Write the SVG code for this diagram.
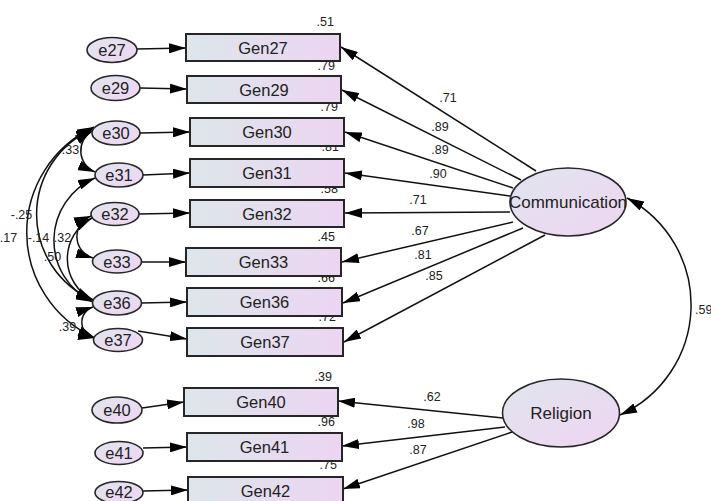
<svg xmlns="http://www.w3.org/2000/svg" width="711" height="501" viewBox="0 0 711 501">
  <style>
    .obs { stroke: #262626; stroke-width: 2; fill: url(#boxFill); }
    .lat { stroke: #262626; stroke-width: 1.6; fill: url(#ovalFill); }
    .err { stroke: #262626; stroke-width: 1.6; fill: url(#ovalFill); }
    .name { font-family: "Liberation Sans", Arial, sans-serif; font-size: 16.5px; fill: #222; text-anchor: middle; }
    .lname { font-family: "Liberation Sans", Arial, sans-serif; font-size: 17px; fill: #222; text-anchor: middle; }
    .val { font-family: "Liberation Sans", Arial, sans-serif; font-size: 12.5px; fill: #222; }
    .mid { text-anchor: middle; }
    .end { text-anchor: end; }
    .edge { fill: none; stroke: #111; stroke-width: 1.5; marker-end: url(#head); }
    .cov { fill: none; stroke: #111; stroke-width: 1.5; marker-start: url(#head); marker-end: url(#head); }
  </style>
  <defs>
    <linearGradient id="boxFill" x1="0" y1="0" x2="1" y2="0">
      <stop offset="0" stop-color="#dde6ea"/>
      <stop offset="1" stop-color="#ecd5f2"/>
    </linearGradient>
    <linearGradient id="ovalFill" x1="0" y1="0" x2="1" y2="1">
      <stop offset="0" stop-color="#e0e5ee"/>
      <stop offset="1" stop-color="#efd5f2"/>
    </linearGradient>
    <marker id="head" viewBox="0 0 17 10" refX="17" refY="5" markerWidth="17" markerHeight="10" markerUnits="userSpaceOnUse" orient="auto-start-reverse">
      <path d="M0,0 L17,5 L0,10 z" fill="#000"/>
    </marker>
  </defs>

  <!-- paths, error terms and covariances -->
  <g id="connectors">
    <!-- Communication loadings -->
    <path class="edge" d="M536,171 L341,47"/>
    <path class="edge" d="M521,180 L342,90"/>
    <path class="edge" d="M513,188 L345,132"/>
    <path class="edge" d="M510,196 L345,173"/>
    <path class="edge" d="M510,212 L345,213"/>
    <path class="edge" d="M513,222 L342,262"/>
    <path class="edge" d="M523,228 L343,303"/>
    <path class="edge" d="M545,235 L344,342"/>
    <!-- Religion loadings -->
    <path class="edge" d="M503,418 L338,401"/>
    <path class="edge" d="M505,427 L342,446"/>
    <path class="edge" d="M512,432 L343,489"/>
    <!-- error terms -->
    <path class="edge" d="M137,49 L186,48"/>
    <path class="edge" d="M140,88 L187,89"/>
    <path class="edge" d="M140,133 L190,132"/>
    <path class="edge" d="M143,175 L190,173"/>
    <path class="edge" d="M139,214 L190,213"/>
    <path class="edge" d="M141,262 L186,262"/>
    <path class="edge" d="M141,303 L187,302"/>
    <path class="edge" d="M138,331 L187,339"/>
    <path class="edge" d="M142,408 L184,402"/>
    <path class="edge" d="M143,448 L187,447"/>
    <path class="edge" d="M143,491 L188,490"/>
    <!-- covariances among error terms -->
    <path class="cov" d="M92,131 A23,23 0 0 0 95,172"/>
    <path class="cov" d="M93,129 A93,93 0 0 0 93,300"/>
    <path class="cov" d="M94,127 A116,116 0 0 0 95,338"/>
    <path class="cov" d="M95,178 A68,68 0 0 0 93,302"/>
    <path class="cov" d="M91,216 A22.2,22.2 0 0 0 93,258"/>
    <path class="cov" d="M92,218 A46,46 0 0 0 93,300"/>
    <path class="cov" d="M93,307 A16,16 0 0 0 95,338"/>
    <!-- factor covariance -->
    <path class="cov" d="M627,198 A121,121 0 0 1 620,415"/>
  </g>

  <!-- coefficient labels -->
  <g id="labels" class="val">
    <text class="mid" x="448" y="102">.71</text>
    <text class="mid" x="440" y="131">.89</text>
    <text class="mid" x="440" y="154">.89</text>
    <text class="mid" x="438" y="178">.90</text>
    <text class="mid" x="418" y="204">.71</text>
    <text class="mid" x="420" y="235">.67</text>
    <text class="mid" x="423" y="259">.81</text>
    <text class="mid" x="434" y="280">.85</text>
    <text class="mid" x="432" y="401">.62</text>
    <text class="mid" x="416" y="428">.98</text>
    <text class="mid" x="418" y="454">.87</text>
    <text x="695" y="314">.59</text>
    <text class="mid" x="70.5" y="154">.33</text>
    <text class="mid" x="21.5" y="219">-.25</text>
    <text class="mid" x="8.5" y="241.5">.17</text>
    <text class="mid" x="38.5" y="241.5">-.14</text>
    <text class="mid" x="62.5" y="241.5">.32</text>
    <text class="mid" x="52.5" y="260.5">.50</text>
    <text class="mid" x="67.5" y="331">.39</text>
    <!-- squared multiple correlations -->
    <text class="end" x="334" y="26">.51</text>
    <text class="end" x="335" y="70">.79</text>
    <text class="end" x="338" y="110.5">.79</text>
    <text class="end" x="339" y="151">.81</text>
    <text class="end" x="338" y="193">.58</text>
    <text class="end" x="335" y="241">.45</text>
    <text class="end" x="335" y="282">.66</text>
    <text class="end" x="336" y="321">.72</text>
    <text class="end" x="332" y="381">.39</text>
    <text class="end" x="335" y="426">.96</text>
    <text class="end" x="337" y="469">.75</text>
  </g>

  <!-- observed variables -->
  <g id="Gen27"><rect class="obs" x="186" y="34" width="154" height="27"/><text class="name" x="263" y="53.5">Gen27</text></g>
  <g id="Gen29"><rect class="obs" x="187" y="76" width="154" height="27"/><text class="name" x="264" y="95.5">Gen29</text></g>
  <g id="Gen30"><rect class="obs" x="190" y="118" width="154" height="28"/><text class="name" x="267" y="138">Gen30</text></g>
  <g id="Gen31"><rect class="obs" x="190" y="159" width="154" height="28"/><text class="name" x="267" y="179">Gen31</text></g>
  <g id="Gen32"><rect class="obs" x="190" y="200" width="154" height="27"/><text class="name" x="267" y="219.5">Gen32</text></g>
  <g id="Gen33"><rect class="obs" x="186" y="248" width="155" height="28"/><text class="name" x="263.5" y="268">Gen33</text></g>
  <g id="Gen36"><rect class="obs" x="187" y="288" width="155" height="28"/><text class="name" x="264.5" y="308">Gen36</text></g>
  <g id="Gen37"><rect class="obs" x="187" y="328" width="156" height="28"/><text class="name" x="265" y="348">Gen37</text></g>
  <g id="Gen40"><rect class="obs" x="184" y="388" width="154" height="28"/><text class="name" x="261" y="408">Gen40</text></g>
  <g id="Gen41"><rect class="obs" x="187" y="433" width="155" height="28"/><text class="name" x="264.5" y="453">Gen41</text></g>
  <g id="Gen42"><rect class="obs" x="188" y="477" width="155" height="28"/><text class="name" x="265.5" y="496.5">Gen42</text></g>

  <!-- error terms -->
  <g id="e27"><ellipse class="err" cx="112" cy="50" rx="25" ry="12.5"/><text class="name" x="112" y="56">e27</text></g>
  <g id="e29"><ellipse class="err" cx="115.5" cy="88" rx="24.5" ry="12.5"/><text class="name" x="115.5" y="94">e29</text></g>
  <g id="e30"><ellipse class="err" cx="116" cy="133" rx="24" ry="12"/><text class="name" x="116" y="139">e30</text></g>
  <g id="e31"><ellipse class="err" cx="119" cy="175" rx="24" ry="12"/><text class="name" x="119" y="181">e31</text></g>
  <g id="e32"><ellipse class="err" cx="115" cy="214" rx="24" ry="11.5"/><text class="name" x="115" y="220">e32</text></g>
  <g id="e33"><ellipse class="err" cx="117" cy="261.5" rx="24.5" ry="11.5"/><text class="name" x="117" y="267.5">e33</text></g>
  <g id="e36"><ellipse class="err" cx="117" cy="303" rx="24.5" ry="12"/><text class="name" x="117" y="309">e36</text></g>
  <g id="e37"><ellipse class="err" cx="118" cy="340" rx="24.5" ry="11.5"/><text class="name" x="118" y="346">e37</text></g>
  <g id="e40"><ellipse class="err" cx="117" cy="410" rx="25" ry="13"/><text class="name" x="117" y="416">e40</text></g>
  <g id="e41"><ellipse class="err" cx="119" cy="453" rx="24" ry="11.5"/><text class="name" x="119" y="459">e41</text></g>
  <g id="e42"><ellipse class="err" cx="119" cy="492.5" rx="24" ry="11"/><text class="name" x="119" y="498">e42</text></g>

  <!-- latent factors -->
  <g id="Communication"><ellipse class="lat" cx="568" cy="202" rx="58" ry="34"/><text class="lname" x="568" y="208">Communication</text></g>
  <g id="Religion"><ellipse class="lat" cx="561" cy="413" rx="58.5" ry="34"/><text class="lname" x="561" y="419">Religion</text></g>
</svg>
